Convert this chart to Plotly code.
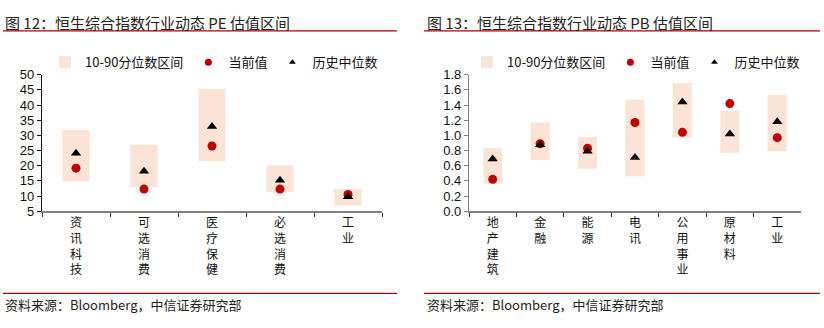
import plotly.graph_objects as go

# ---- data ----
pe_cats = ["资讯科技", "可选消费", "医疗保健", "必选消费", "工业"]
pe_low = [14.9, 12.9, 21.5, 11.3, 6.9]
pe_high = [31.8, 26.9, 45.3, 20.1, 12.3]
pe_current = [19.2, 12.3, 26.5, 12.3, 10.5]
pe_median = [24.1, 18.2, 32.9, 15.2, 9.8]

pb_cats = ["地产建筑", "金融", "能源", "电讯", "公用事业", "原材料", "工业"]
pb_low = [0.365, 0.676, 0.56, 0.46, 0.974, 0.77, 0.79]
pb_high = [0.835, 1.17, 0.978, 1.47, 1.687, 1.33, 1.536]
pb_current = [0.42, 0.89, 0.83, 1.17, 1.04, 1.42, 0.97]
pb_median = [0.69, 0.877, 0.79, 0.71, 1.44, 1.02, 1.18]

BOX = "#FBE3D6"
RED = "#C00000"
FONT = "Noto Sans CJK SC"
NUMFONT = "Arial, Liberation Sans"

def vert(s):
    return "<br>".join(list(s))

fig = go.Figure()

def add_panel(cats, low, high, cur, med, xa, ya, leg):
    fig.add_trace(go.Bar(x=cats, y=[h - l for h, l in zip(high, low)], base=low,
                         marker=dict(color=BOX, line=dict(width=0)), width=0.4,
                         name="10-90分位数区间", xaxis=xa, yaxis=ya, legend=leg))
    fig.add_trace(go.Scatter(x=cats, y=cur, mode="markers",
                             marker=dict(color=RED, size=9, symbol="circle"),
                             name="当前值", xaxis=xa, yaxis=ya, showlegend=False))
    fig.add_trace(go.Scatter(x=cats, y=med, mode="markers",
                             marker=dict(color="black", size=9, symbol="triangle-up"),
                             name="历史中位数", xaxis=xa, yaxis=ya, showlegend=False))
    # legend entries with the smaller legend symbols of the reference
    fig.add_trace(go.Scatter(x=[None], y=[None], mode="markers",
                             marker=dict(color=RED, size=7, symbol="circle"),
                             name="当前值", xaxis=xa, yaxis=ya, legend=leg))
    fig.add_trace(go.Scatter(x=[None], y=[None], mode="markers",
                             marker=dict(color="black", size=6, symbol="triangle-up"),
                             name="历史中位数", xaxis=xa, yaxis=ya, legend=leg))

add_panel(pe_cats, pe_low, pe_high, pe_current, pe_median, "x", "y", "legend")
add_panel(pb_cats, pb_low, pb_high, pb_current, pb_median, "x2", "y2", "legend2")

def yaxis_style(linecolor):
    return dict(showline=True, linecolor=linecolor, linewidth=1.2, ticks="outside",
                tickcolor=linecolor, ticklen=4, showgrid=False, zeroline=False,
                tickfont=dict(family=NUMFONT, size=13, color="#111"))

def xaxis_style():
    return dict(showline=True, linecolor="#808080", linewidth=1.6, ticks="outside",
                tickcolor="#333", ticklen=4, showgrid=False, zeroline=False,
                type="category", tickson="boundaries",
                tickfont=dict(family=FONT, size=12, color="#111"))

ydom = [1 - 214 / 328, 1 - 71 / 328]
legend_style = dict(orientation="h", yanchor="middle", xanchor="center",
                    font=dict(family=FONT, size=13, color="#111"),
                    bgcolor="rgba(0,0,0,0)", itemwidth=30, tracegroupgap=0)
fig.update_layout(
    width=824, height=328, margin=dict(l=0, r=0, t=0, b=0),
    paper_bgcolor="white", plot_bgcolor="white", barmode="overlay",
    font=dict(family=FONT, color="#111"),
    xaxis=dict(domain=[42 / 824, 382 / 824], anchor="y",
               tickmode="array", tickvals=pe_cats, ticktext=[vert(c) for c in pe_cats],
               **xaxis_style()),
    yaxis=dict(domain=ydom, anchor="x", range=[5, 50], dtick=5, tick0=0, **yaxis_style("#111")),
    xaxis2=dict(domain=[469 / 824, 801 / 824], anchor="y2",
                tickmode="array", tickvals=pb_cats, ticktext=[vert(c) for c in pb_cats],
                **xaxis_style()),
    yaxis2=dict(domain=ydom, anchor="x2", range=[0, 1.8], dtick=0.2, tickformat=".1f",
                **yaxis_style("#808080")),
    legend=dict(x=214 / 824, y=1 - 58 / 328, **legend_style),
    legend2=dict(x=636 / 824, y=1 - 58 / 328, **legend_style),
    showlegend=True,
)

LINE = "#B00000"
shapes = []
for x0, x1 in [(3, 397), (424, 820)]:
    shapes.append(dict(type="line", xref="paper", yref="paper", x0=x0 / 824, x1=x1 / 824,
                       y0=1 - 25 / 328, y1=1 - 25 / 328, line=dict(color=LINE, width=1.3)))
    shapes.append(dict(type="line", xref="paper", yref="paper", x0=x0 / 824, x1=x1 / 824,
                       y0=1 - 300 / 328, y1=1 - 300 / 328, line=dict(color=LINE, width=1.2)))
fig.update_layout(shapes=shapes)

annos = [
    dict(text="图 12：恒生综合指数行业动态 PE 估值区间", x=3 / 824, y=1 - 16 / 328, size=15),
    dict(text="图 13：恒生综合指数行业动态 PB 估值区间", x=425 / 824, y=1 - 16 / 328, size=15),
    dict(text="资料来源：Bloomberg，中信证券研究部", x=3 / 824, y=1 - 312 / 328, size=13),
    dict(text="资料来源：Bloomberg，中信证券研究部", x=425 / 824, y=1 - 312 / 328, size=13),
]
for a in annos:
    fig.add_annotation(text=a["text"], x=a["x"], y=a["y"], xref="paper", yref="paper",
                       xanchor="left", yanchor="middle", showarrow=False,
                       font=dict(family=FONT, size=a["size"], color="#222"))

fig.write_html("out.html")
